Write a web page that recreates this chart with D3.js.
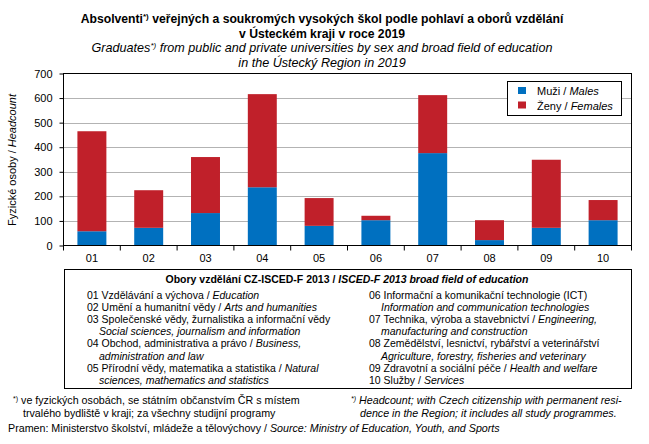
<!DOCTYPE html>
<html><head><meta charset="utf-8">
<script src="https://cdn.jsdelivr.net/npm/d3@7"></script>
<style>
body{margin:0;background:#fff;}
svg{font-family:"Liberation Sans",Arial,sans-serif;}
</style></head>
<body><svg id="c" width="649" height="444"></svg>
<script>
const categories = ["01","02","03","04","05","06","07","08","09","10"];
const males   = [58, 72, 132, 237, 80, 103, 376, 22, 72, 103];
const females = [407, 153, 228, 379, 113, 18, 236, 81, 277, 82];
const yTicks  = [0,100,200,300,400,500,600,700];
const seriesNames = [["Muži / ","Males"],["Ženy / ","Females"]];
const colors = ["#0070c0","#c0202a"];
const leftLines = [
  [["01 Vzdělávání a výchova / ",0],["Education",1]],
  [["02 Umění a humanitní vědy / ",0],["Arts and humanities",1]],
  [["03 Společenské vědy, žurnalistika a informační vědy",0]],
  [["Social sciences, journalism and information",1]],
  [["04 Obchod, administrativa a právo / ",0],["Business,",1]],
  [["administration and law",1]],
  [["05 Přírodní vědy, matematika a statistika / ",0],["Natural",1]],
  [["sciences, mathematics and statistics",1]]
];
const leftIndent = [0,0,0,1,0,1,0,1];
const rightLines = [
  [["06 Informační a komunikační technologie (ICT)",0]],
  [["Information and communication technologies",1]],
  [["07 Technika, výroba a stavebnictví / ",0],["Engineering,",1]],
  [["manufacturing and construction",1]],
  [["08 Zemědělství, lesnictví, rybářství a veterinářství",0]],
  [["Agriculture, forestry, fisheries and veterinary",1]],
  [["09 Zdravotní a sociální péče / ",0],["Health and welfare",1]],
  [["10 Služby / ",0],["Services",1]]
];
const rightIndent = [0,1,0,1,0,1,0,0];

const svg = d3.select("#c");
const X0=63.5, X1=631.5, YT=73.5, YB=245.5;
const y = d3.scaleLinear().domain([0,700]).range([YB,YT]);
const x = d3.scaleBand().domain(categories).range([X0,X1]).paddingInner(0.49).paddingOuter(0.245);
const step = x.step();

// title
const t = svg.append("g").attr("text-anchor","middle").attr("fill","#000");
const t1 = t.append("text").attr("x",322).attr("y",23).attr("font-weight","bold").attr("font-size",12.2);
t1.append("tspan").text("Absolventi");
t1.append("tspan").attr("font-size",8).attr("dy",-4).text("*)");
t1.append("tspan").attr("dy",4).text(" veřejných a soukromých  vysokých  škol podle pohlaví a oborů vzdělání");
t.append("text").attr("x",322).attr("y",38).attr("font-weight","bold").attr("font-size",12.2).text("v Ústeckém  kraji v roce 2019");
const s1 = t.append("text").attr("x",322).attr("y",52).attr("font-style","italic").attr("font-size",12.6);
s1.append("tspan").text("Graduates");
s1.append("tspan").attr("font-size",8).attr("dy",-4).text("*)");
s1.append("tspan").attr("dy",4).text(" from public and private universities by sex and broad field of education");
t.append("text").attr("x",322).attr("y",67).attr("font-style","italic").attr("font-size",12.6).text("in the Ústecký Region  in 2019");

// gridlines
svg.append("g").selectAll("line").data(yTicks.filter(d=>d>0&&d<700)).join("line")
  .attr("x1",X0).attr("x2",X1).attr("y1",d=>Math.round(y(d))+0.5).attr("y2",d=>Math.round(y(d))+0.5)
  .attr("stroke","#b3b3b3").attr("stroke-width",1);

// bars
const stackData = categories.map((c,i)=>({c, m:males[i], f:females[i]}));
const stack = d3.stack().keys(["m","f"])(stackData);
svg.append("g").selectAll("g").data(stack).join("g").attr("fill",(d,i)=>colors[i])
  .selectAll("rect").data(d=>d).join("rect")
  .attr("x",d=>x(d.data.c)).attr("width",x.bandwidth())
  .attr("y",d=>y(d[1])).attr("height",d=>y(d[0])-y(d[1]));

// frame
svg.append("rect").attr("x",X0).attr("y",YT).attr("width",X1-X0).attr("height",YB-YT)
  .attr("fill","none").attr("stroke","#000").attr("stroke-width",1);

// y axis
const ya = svg.append("g").attr("transform",`translate(${X0},0)`)
  .call(d3.axisLeft(y).tickValues(yTicks).tickSize(4).tickPadding(7).tickFormat(d3.format("d")));
ya.select(".domain").remove();
ya.selectAll("line").attr("stroke","#000");
ya.selectAll("text").attr("font-size",11).attr("font-family","Liberation Sans, Arial").attr("fill","#000");

// x axis ticks at category boundaries
const xa = svg.append("g").attr("transform",`translate(0,${YB})`)
  .call(d3.axisBottom(x).tickSize(0).tickPadding(9));
xa.select(".domain").remove();
xa.selectAll("text").attr("font-size",11).attr("font-family","Liberation Sans, Arial").attr("fill","#000");
svg.append("g").selectAll("line").data(d3.range(categories.length+1)).join("line")
  .attr("x1",i=>x.range()[0]+i*step).attr("x2",i=>x.range()[0]+i*step)
  .attr("y1",YB).attr("y2",YB+5).attr("stroke","#000");

// y label
const yl = svg.append("text").attr("transform","translate(16,160) rotate(-90)")
  .attr("text-anchor","middle").attr("font-size",11);
yl.append("tspan").text("Fyzické osoby / ");
yl.append("tspan").attr("font-style","italic").text("Headcount");

// legend
const lg = svg.append("g");
lg.append("rect").attr("x",507.5).attr("y",81.5).attr("width",114).attr("height",34)
  .attr("fill","#fff").attr("stroke","#000");
seriesNames.forEach((n,i)=>{
  lg.append("rect").attr("x",518).attr("y",87+i*14.5).attr("width",8).attr("height",7).attr("fill",colors[i]);
  const tx = lg.append("text").attr("x",537).attr("y",95+i*14.5).attr("font-size",11);
  tx.append("tspan").text(n[0]);
  tx.append("tspan").attr("font-style","italic").text(n[1]);
});

// fields box
const bx = svg.append("g");
bx.append("rect").attr("x",64.5).attr("y",269.5).attr("width",567).attr("height",119)
  .attr("fill","none").attr("stroke","#000");
const hd = bx.append("text").attr("x",347).attr("y",283).attr("text-anchor","middle")
  .attr("font-size",10.5).attr("font-weight","bold");
hd.append("tspan").text("Obory vzdělání CZ-ISCED-F 2013 / ");
hd.append("tspan").attr("font-style","italic").text("ISCED-F 2013 broad field of education");
function writeLines(lines, indents, xb){
  lines.forEach((ln,i)=>{
    const tx = bx.append("text").attr("x",xb + indents[i]*12).attr("y",299+i*12.1).attr("font-size",10.5);
    ln.forEach(p=>tx.append("tspan").attr("font-style",p[1]?"italic":"normal").text(p[0]));
  });
}
writeLines(leftLines,leftIndent,87);
writeLines(rightLines,rightIndent,369);

// footnotes
const fn = svg.append("g").attr("font-size",10.7);
const f1 = fn.append("text").attr("x",13).attr("y",404);
f1.append("tspan").attr("font-size",7).attr("dy",-3).text("*)");
f1.append("tspan").attr("dy",3).text(" ve fyzických osobách, se státním občanstvím ČR  s místem");
fn.append("text").attr("x",23).attr("y",417).text("trvalého bydliště v kraji;  za všechny studijní programy");
const f2 = fn.append("text").attr("x",351).attr("y",404).attr("font-style","italic");
f2.append("tspan").attr("font-size",7).attr("dy",-3).text("*)");
f2.append("tspan").attr("dy",3).text(" Headcount; with Czech citizenship with permanent resi-");
fn.append("text").attr("x",360).attr("y",417).attr("font-style","italic").text("dence in the Region; it includes all study programmes.");
const f3 = fn.append("text").attr("x",8).attr("y",432);
f3.append("tspan").text("Pramen:  Ministerstvo školství, mládeže a tělovýchovy / ");
f3.append("tspan").attr("font-style","italic").text("Source: Ministry of Education, Youth, and Sports");
</script></body></html>
